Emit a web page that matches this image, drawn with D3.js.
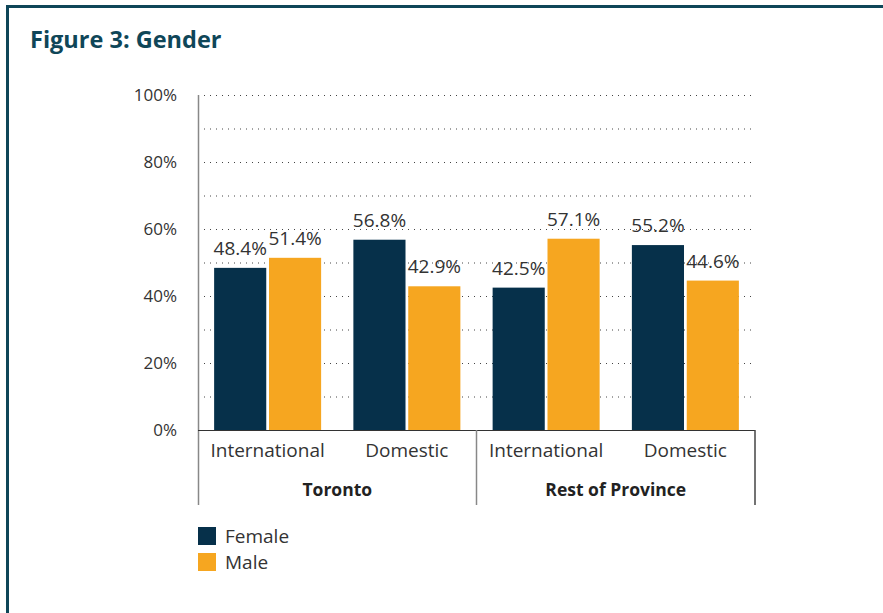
<!DOCTYPE html>
<html>
<head>
<meta charset="utf-8">
<script src="https://cdn.jsdelivr.net/npm/d3@7"></script>
<style>
  body { margin: 0; background: #fff; }
  svg text { font-family: "Open Sans", sans-serif; fill: #333; }
</style>
</head>
<body>
<svg id="chart" width="883" height="613"></svg>
<script>
// chart data
var groups = ['Toronto', 'Rest of Province'];
var subgroups = ['International', 'Domestic'];
var seriesNames = ['Female', 'Male'];
var female = [48.4, 56.8, 42.5, 55.2];
var male = [51.4, 42.9, 57.1, 44.6];
var yTicks = [0, 20, 40, 60, 80, 100];

var COLORS = ['#06304a', '#f6a620'];
var BORDER = '#0f4658';
var FONT = '19px';

var svg = d3.select('#chart');

// frame
svg.append('line').attr('x1', 6).attr('x2', 883).attr('y1', 6.5).attr('y2', 6.5)
	.attr('stroke', BORDER).attr('stroke-width', 3);
svg.append('line').attr('x1', 7.5).attr('x2', 7.5).attr('y1', 5).attr('y2', 613)
	.attr('stroke', BORDER).attr('stroke-width', 3);

svg.append('text')
	.attr('x', 30).attr('y', 48)
	.style('font-size', '23.5px').style('font-weight', 'bold').style('fill', BORDER)
	.text('Figure 3: Gender');

var plotLeft = 198, plotRight = 755, plotTop = 95, plotBottom = 430;

var y = d3.scaleLinear().domain([0, 100]).range([plotBottom, plotTop]);

// one band per group/subgroup pair
var cats = [];
groups.forEach(function (g) {
	subgroups.forEach(function (s) { cats.push(g + '|' + s); });
});
var x = d3.scaleBand().domain(cats).range([plotLeft, plotRight]);
var xInner = d3.scaleBand().domain(seriesNames).range([0, 107]).paddingInner(0.05);

var g = svg.append('g');

// dotted grid every 10%
g.selectAll('.grid')
	.data(d3.range(10, 101, 10))
	.enter().append('line')
	.attr('x1', plotLeft).attr('x2', plotRight)
	.attr('y1', function (d) { return y(d) + 0.5; })
	.attr('y2', function (d) { return y(d) + 0.5; })
	.attr('stroke', '#444').attr('stroke-width', 1)
	.attr('stroke-dasharray', '1,5');

// y axis
var yAxis = g.append('g')
	.attr('transform', 'translate(' + plotLeft + ',0)')
	.call(d3.axisLeft(y).tickValues(yTicks).tickSize(0).tickPadding(21)
		.tickFormat(function (d) { return d + '%'; }));
yAxis.select('.domain').remove();
yAxis.selectAll('text').style('font-size', '17px').style('fill', '#333')
	.style('font-family', '"Open Sans", sans-serif');

g.append('line').attr('x1', plotLeft + 0.5).attr('x2', plotLeft + 0.5)
	.attr('y1', plotTop).attr('y2', 505)
	.attr('stroke', '#888').attr('stroke-width', 1.5);

// bars
var rows = cats.map(function (c, i) {
	return { cat: c, values: [female[i], male[i]] };
});

var bandGroups = g.selectAll('.band')
	.data(rows)
	.enter().append('g')
	.attr('transform', function (d) {
		return 'translate(' + (x(d.cat) + (x.bandwidth() - 107) / 2) + ',0)';
	});

bandGroups.selectAll('rect')
	.data(function (d) { return d.values.map(function (v, j) { return { name: seriesNames[j], value: v, idx: j }; }); })
	.enter().append('rect')
	.attr('x', function (d) { return xInner(d.name); })
	.attr('width', xInner.bandwidth())
	.attr('y', function (d) { return y(d.value); })
	.attr('height', function (d) { return plotBottom - y(d.value); })
	.attr('fill', function (d) { return COLORS[d.idx]; });

bandGroups.selectAll('.val')
	.data(function (d) { return d.values.map(function (v, j) { return { name: seriesNames[j], value: v }; }); })
	.enter().append('text')
	.attr('x', function (d) { return xInner(d.name) + xInner.bandwidth() / 2; })
	.attr('y', function (d) { return y(d.value) - 13; })
	.attr('text-anchor', 'middle')
	.style('font-size', FONT)
	.text(function (d) { return d.value.toFixed(1) + '%'; });

// x axis line
g.append('line').attr('x1', plotLeft).attr('x2', plotRight)
	.attr('y1', plotBottom + 0.5).attr('y2', plotBottom + 0.5)
	.attr('stroke', '#333').attr('stroke-width', 1.2);

// subgroup labels
g.selectAll('.cat')
	.data(cats)
	.enter().append('text')
	.attr('x', function (d) { return x(d) + x.bandwidth() / 2; })
	.attr('y', 457)
	.attr('text-anchor', 'middle')
	.style('font-size', FONT)
	.text(function (d) { return d.split('|')[1]; });

// group separators and labels
var groupWidth = (plotRight - plotLeft) / groups.length;
g.selectAll('.sep')
	.data(d3.range(1, groups.length + 1))
	.enter().append('line')
	.attr('x1', function (d) { return plotLeft + d * groupWidth; })
	.attr('x2', function (d) { return plotLeft + d * groupWidth; })
	.attr('y1', plotBottom).attr('y2', 505)
	.attr('stroke', function (d) { return d === groups.length ? '#444' : '#888'; })
	.attr('stroke-width', 1.5);

g.selectAll('.grp')
	.data(groups)
	.enter().append('text')
	.attr('x', function (d, i) { return plotLeft + (i + 0.5) * groupWidth; })
	.attr('y', 496)
	.attr('text-anchor', 'middle')
	.style('font-size', '17.5px').style('font-weight', 'bold').style('fill', '#222')
	.text(function (d) { return d; });

// legend
var legend = svg.append('g').attr('transform', 'translate(198,527)');
var items = legend.selectAll('.item')
	.data(seriesNames)
	.enter().append('g')
	.attr('transform', function (d, i) { return 'translate(0,' + (i * 26) + ')'; });
items.append('rect').attr('width', 18).attr('height', 18)
	.attr('fill', function (d, i) { return COLORS[i]; });
items.append('text').attr('x', 27).attr('y', 16)
	.style('font-size', FONT)
	.text(function (d) { return d; });
</script>
</body>
</html>
